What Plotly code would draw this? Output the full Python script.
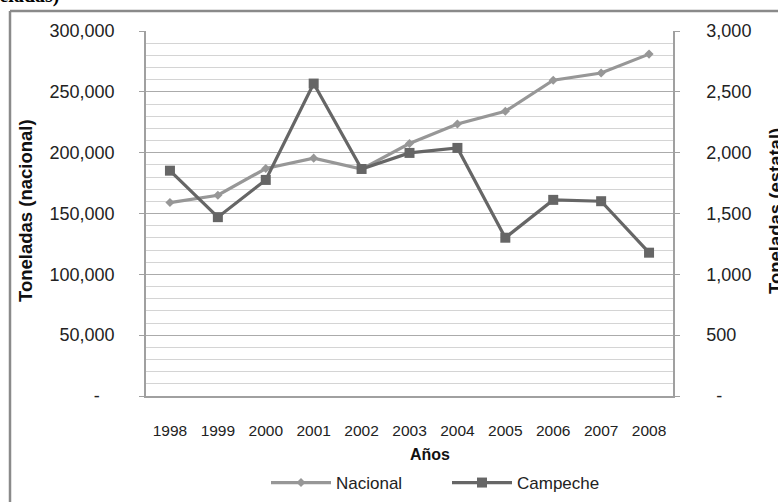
import plotly.graph_objects as go

years = ["1998", "1999", "2000", "2001", "2002", "2003", "2004", "2005", "2006", "2007", "2008"]
nacional = [159000, 165000, 187000, 195500, 186500, 207500, 223500, 234000, 259500, 265500, 281000]
campeche = [1852, 1470, 1776, 2568, 1866, 1998, 2039, 1301, 1612, 1601, 1178]

left_ticks = [0, 50000, 100000, 150000, 200000, 250000, 300000]
left_text = ["-\u00a0\u00a0\u00a0", "50,000", "100,000", "150,000", "200,000", "250,000", "300,000"]
right_ticks = [0, 500, 1000, 1500, 2000, 2500, 3000]
right_text = ["\u00a0\u00a0-", "500", "1,000", "1,500", "2,000", "2,500", "3,000"]

W, H = 778, 502
L, R, T, B = 146, 105, 31, 106
pw, ph = W - L - R, H - T - B

def px(x):
    return (x - L) / pw

def py(y):
    return (H - B - y) / ph

font = "Arial, 'Liberation Sans', sans-serif"

fig = go.Figure()
fig.add_trace(go.Scatter(
    x=years, y=nacional, name="Nacional", mode="lines+markers",
    line=dict(color="#979797", width=3.2),
    marker=dict(symbol="diamond", size=7, color="#979797"),
    yaxis="y"))
fig.add_trace(go.Scatter(
    x=years, y=campeche, name="Campeche", mode="lines+markers",
    line=dict(color="#666666", width=3.2),
    marker=dict(symbol="square", size=10, color="#666666"),
    yaxis="y2"))

fig.update_layout(
    width=W, height=H,
    margin=dict(l=L, r=R, t=T, b=B, pad=0, autoexpand=False),
    paper_bgcolor="white", plot_bgcolor="white",
    font=dict(family=font, size=15, color="#222"),
    showlegend=True,
    legend=dict(orientation="h", x=px(266), xanchor="left", y=py(483), yanchor="middle",
                font=dict(size=17, color="#222"), itemwidth=60, entrywidth=106,
                bgcolor="rgba(0,0,0,0)", traceorder="normal"),
    xaxis=dict(type="category", showgrid=False, showline=True, linecolor="#a0a0a0", linewidth=1.5,
               ticks="", tickfont=dict(size=15.5, color="#222"), ticklabelstandoff=20,
               range=[-0.5, 10.5]),
    yaxis=dict(range=[0, 300000], tickvals=left_ticks, ticktext=left_text,
               showgrid=True, gridcolor="#ababab", gridwidth=1.3,
               minor=dict(dtick=10000, showgrid=True, gridcolor="#d4d4d4", gridwidth=1.3, ticks=""),
               showline=True, linecolor="#a0a0a0", linewidth=1.5,
               ticks="outside", ticklen=5, tickcolor="#a0a0a0",
               tickfont=dict(size=18, color="#222"), ticklabelstandoff=21, zeroline=False),
    yaxis2=dict(range=[0, 3000], tickvals=right_ticks, ticktext=right_text, overlaying="y", side="right",
                showgrid=False, showline=True, linecolor="#a0a0a0", linewidth=1.5,
                ticks="outside", ticklen=5, tickcolor="#a0a0a0",
                tickfont=dict(size=18, color="#222"), ticklabelstandoff=23, zeroline=False),
)

ann = []
ann.append(dict(text="<b>Toneladas (nacional)</b>", x=px(25), y=py(211), xref="paper", yref="paper",
                textangle=-90, showarrow=False, font=dict(size=18.5, color="#111"),
                xanchor="center", yanchor="middle"))
ann.append(dict(text="<b>Toneladas (estatal)</b>", x=px(775), y=py(211), xref="paper", yref="paper",
                textangle=-90, showarrow=False, font=dict(size=18.5, color="#111"),
                xanchor="center", yanchor="middle"))
ann.append(dict(text="<b>Años</b>", x=px(430), y=py(454), xref="paper", yref="paper",
                showarrow=False, font=dict(size=16, color="#111"),
                xanchor="center", yanchor="middle"))
ann.append(dict(text="<b>(toneladas)</b>", x=px(61), y=py(9), xref="paper", yref="paper",
                showarrow=False, font=dict(size=20, color="#000", family="'Liberation Serif', 'Times New Roman', serif"),
                xanchor="right", yanchor="bottom"))
fig.update_layout(annotations=ann)

# outer chart frame (top and left edges visible)
fig.add_shape(type="line", xref="paper", yref="paper", x0=px(10), y0=py(11), x1=px(800), y1=py(11),
              line=dict(color="#8a8a8a", width=2.5))
fig.add_shape(type="line", xref="paper", yref="paper", x0=px(10), y0=py(11), x1=px(10), y1=py(530),
              line=dict(color="#8a8a8a", width=2.5))

fig.write_html("out.html", config={"displayModeBar": False},
               post_script="document.body.style.margin='0';document.body.style.padding='0';")
